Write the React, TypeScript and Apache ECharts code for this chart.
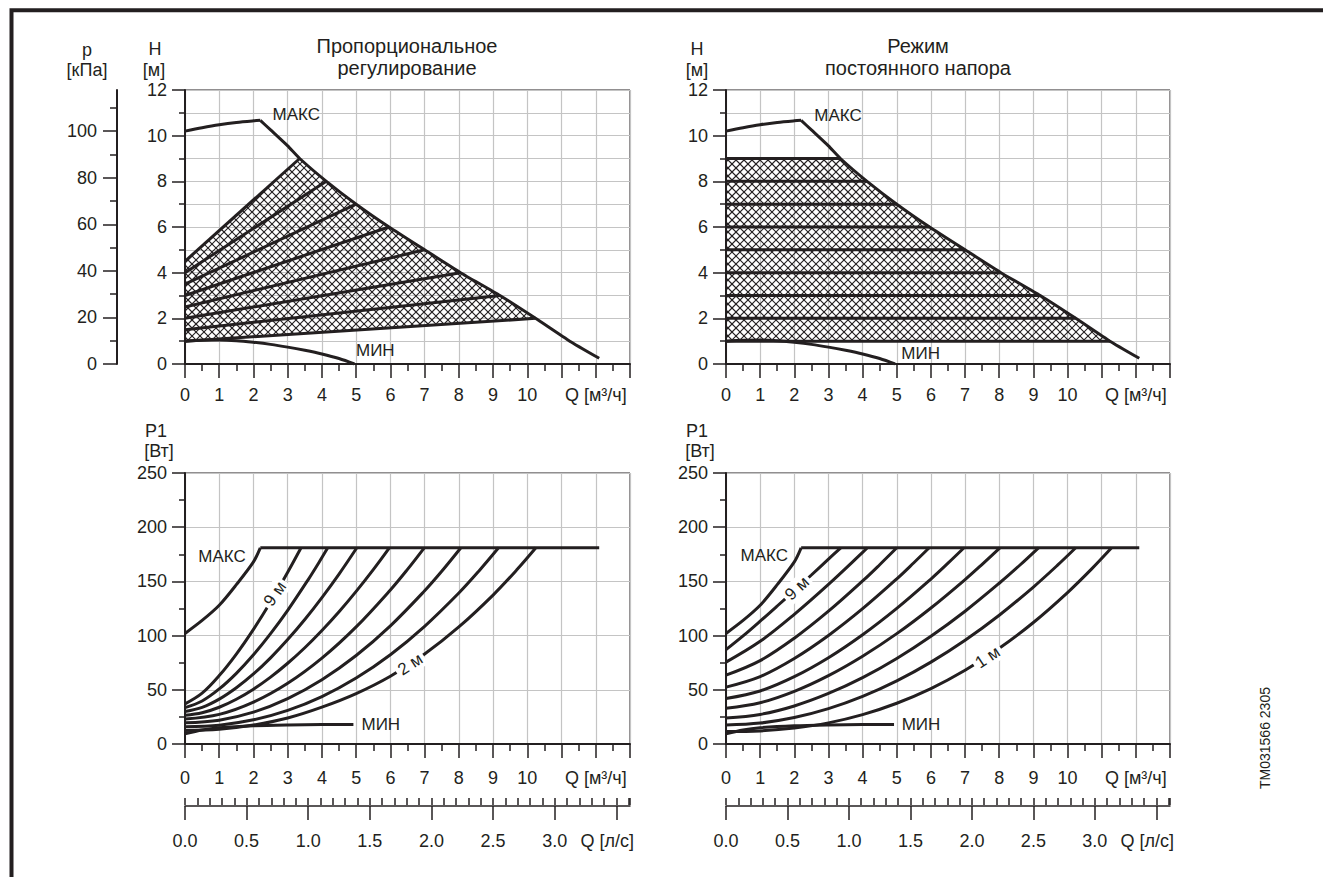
import React, { useEffect, useRef } from 'react';
import * as echarts from 'echarts';

type Pt = [number, number];

const FONT = '"Liberation Sans", Arial, Helvetica, sans-serif';
const INK = '#231f20';
const GRID_GRAY = '#c4c4c4';

// ---------- axis ranges & tick labels ----------
const Q_MAX = 13; // m³/h
const H_MAX = 12; // m
const P_MAX = 250; // W
const M3H_PER_LS = 3.6;
const KPA_PER_M = 9.81;
const qLabels = ['0', '1', '2', '3', '4', '5', '6', '7', '8', '9', '10', '', 'Q [м³/ч]', ''];
const lsTickValues = [0, 0.5, 1, 1.5, 2, 2.5, 3, 3.5];
const lsLabels = ['0.0', '0.5', '1.0', '1.5', '2.0', '2.5', '3.0', 'Q [л/с]'];
const kpaTickValues = [0, 20, 40, 60, 80, 100];
const kpaMinorValues = [10, 30, 50, 70, 90, 110];

// ---------- H-Q curves (Q m³/h, H m) ----------
const hqMaxRise: Pt[] = [[0, 10.2], [0.5, 10.35], [1, 10.48], [1.5, 10.58], [2, 10.65], [2.2, 10.67]];
const hqMaxFall: Pt[] = [
  [2.2, 10.67], [2.5, 10.25], [3, 9.55], [3.35, 9.0], [4.13, 8.0], [5, 7.0], [5.96, 6.0],
  [7, 5.0], [8.05, 4.0], [9.2, 3.0], [10.24, 2.0], [11.24, 1.0], [12.1, 0.25],
];
const hqMin: Pt[] = [
  [0, 1.0], [0.5, 1.04], [1, 1.05], [1.5, 1.02], [2, 0.95], [2.5, 0.86], [3, 0.74],
  [3.5, 0.6], [4, 0.44], [4.5, 0.24], [4.95, 0],
];
// proportional pressure lines: start head at Q=0, end on the max curve
const propStartH = [4.5, 4.0, 3.5, 3.0, 2.5, 2.0, 1.5, 1.0];
const propEnd: Pt[] = [[3.35, 9], [4.13, 8], [5, 7], [5.96, 6], [7, 5], [8.05, 4], [9.2, 3], [10.24, 2]];
// constant pressure lines
const constEnd: Pt[] = [[3.35, 9], [4.13, 8], [5, 7], [5.96, 6], [7, 5], [8.05, 4], [9.2, 3], [10.24, 2], [11.24, 1]];

// ---------- P1-Q curves (Q m³/h, P1 W) ----------
const pMaxRise: Pt[] = [[0, 102], [0.5, 114], [1, 128], [1.5, 147], [2, 168], [2.2, 181]];
const pMaxFlat: Pt[] = [[2.2, 181], [12.1, 181]];
const pMin: Pt[] = [[0, 9.5], [0.5, 13], [1, 15], [2, 16.8], [3, 17.6], [4, 18], [4.92, 18.1]];

const propP9: Pt[] = [[0, 37], [0.5, 46.9], [1, 63.1], [1.5, 83], [2, 105.8], [2.5, 131], [3, 158.4], [3.39, 181]];
const propP8: Pt[] = [[0, 33.5], [0.5, 39.7], [1, 50.8], [1.5, 65.2], [2, 82.3], [2.5, 101.8], [3, 123.3], [3.6, 151.7], [3.9, 166.8], [4.17, 181]];
const propP7: Pt[] = [[0, 30], [0.5, 33.8], [1, 41.4], [1.5, 51.9], [2, 64.6], [2.5, 79.5], [3, 96.3], [3.5, 114.8], [4, 135], [4.5, 156.7], [5.02, 181]];
const propP6: Pt[] = [[0, 26.5], [0.5, 28.8], [1, 33.9], [1.5, 41.3], [2, 50.6], [2.5, 61.7], [3, 74.5], [3.5, 88.8], [4, 104.7], [4.5, 122], [5, 140.8], [5.5, 160.9], [5.97, 181]];
const propP5: Pt[] = [[0, 23], [1, 27.3], [2, 38.6], [3, 56], [4, 79.2], [5, 108], [6, 142.1], [6.5, 161.1], [6.99, 181]];
const propP4: Pt[] = [[0, 19.5], [1, 22], [2, 29.4], [3, 41.9], [4, 59.3], [5, 81.6], [6, 109], [7, 141.3], [7.5, 159.3], [8.06, 181]];
const propP3: Pt[] = [[0, 16], [1, 17.4], [2, 22.3], [3, 31], [4, 43.8], [5, 60.9], [6, 82.4], [7, 108.6], [8, 139.3], [8.6, 160.1], [9.16, 181]];
const propP2: Pt[] = [[0, 12.5], [1, 13.6], [2, 17.5], [3, 24], [4, 34], [5, 46.5], [6, 62.5], [7, 83], [8, 108], [9, 137.4], [9.7, 160.9], [10.25, 181]];

const constP9: Pt[] = [[0, 87], [0.5, 99.7], [1, 113.3], [1.5, 127.3], [2, 141.5], [2.5, 155.9], [3, 170.5], [3.36, 181]];
const constP8: Pt[] = [[0, 75.5], [1, 94.7], [2, 119.6], [3, 147.2], [4, 176.7], [4.14, 181]];
const constP7: Pt[] = [[0, 63.5], [1, 76.9], [2, 97.6], [3, 122.5], [4, 150.4], [4.5, 165.4], [5, 181]];
const constP6: Pt[] = [[0, 52.5], [1, 62.2], [2, 78.9], [3, 100.1], [4, 124.8], [5, 152.3], [5.5, 167.2], [5.95, 181]];
const constP5: Pt[] = [[0, 42], [1, 48.9], [2, 62.1], [3, 79.6], [4, 100.8], [5, 125.1], [6, 152.2], [6.5, 166.8], [6.97, 181]];
const constP4: Pt[] = [[0, 33], [1, 38.1], [2, 48.6], [3, 63.1], [4, 81], [5, 101.8], [6, 125.5], [7, 151.7], [7.5, 165.8], [8.02, 181]];
const constP3: Pt[] = [[0, 24], [1, 27.3], [2, 35.1], [3, 46.6], [4, 61.2], [5, 78.9], [6, 99.4], [7, 122.5], [8, 148.3], [8.6, 164.9], [9.15, 181]];
const constP2: Pt[] = [[0, 17.5], [1, 19.3], [2, 24.4], [3, 32.6], [4, 43.9], [5, 58.2], [6, 75.5], [7, 95.7], [8, 118.8], [9, 144.8], [9.7, 164.7], [10.24, 181]];
const constP1: Pt[] = [[0, 11.5], [1, 12.1], [2, 14.7], [3, 19.5], [4, 27.1], [5, 37.6], [6, 51.1], [7, 68], [8, 88.3], [9, 112.1], [10, 139.7], [10.7, 161.3], [11.29, 181]];

const propPCurves = [propP9, propP8, propP7, propP6, propP5, propP4, propP3, propP2];
const constPCurves = [constP9, constP8, constP7, constP6, constP5, constP4, constP3, constP2, constP1];

// ---------- curve annotations (data coords; axis pair; rotation in degrees) ----------
const annTexts = ['МАКС', 'МИН', 'МАКС', 'МИН', 'МАКС', 'МИН', '9 м', '2 м', 'МАКС', 'МИН', '9 м', '1 м'];
const annPos: Pt[] = [
  [3.25, 10.92], [5.56, 0.6], [3.28, 10.9], [5.7, 0.45],
  [1.08, 172.6], [5.72, 18.4], [2.63, 138.5], [6.58, 73.5],
  [1.12, 174], [5.71, 18], [2.08, 143.5], [7.66, 80],
];
const annAxes: Pt[] = [[0, 0], [0, 0], [1, 3], [1, 3], [2, 4], [2, 4], [2, 4], [2, 4], [3, 5], [3, 5], [3, 5], [3, 5]];
const annRotate = [0, 0, 0, 0, 0, 0, 55, 33, 0, 0, 43, 34];

// hatch polygons built from curve data
const propHatch: Pt[] = [[0, propStartH[propStartH.length - 1]], ...hqMaxFall.slice(3, 11).reverse(), [0, propStartH[0]]];
const constHatch: Pt[] = [[0, constEnd[constEnd.length - 1][1]], ...hqMaxFall.slice(3, 12).reverse(), [0, constEnd[0][1]]];

const HATCH_STEP = 8;

function hatchSegments(poly: number[][], step: number): number[][] {
  const segs: number[][] = [];
  const n = poly.length;
  for (const dir of [1, -1]) {
    const cs = poly.map((p) => p[1] - dir * p[0]);
    const cmin = Math.min(...cs);
    const cmax = Math.max(...cs);
    for (let c = Math.ceil(cmin / step) * step; c <= cmax; c += step) {
      const xs: number[] = [];
      for (let i = 0; i < n; i++) {
        const a = poly[i];
        const b = poly[(i + 1) % n];
        const f1 = a[1] - dir * a[0] - c;
        const f2 = b[1] - dir * b[0] - c;
        if (f1 < 0 !== f2 < 0) {
          const t = f1 / (f1 - f2);
          xs.push(a[0] + t * (b[0] - a[0]));
        }
      }
      xs.sort((u, v) => u - v);
      for (let k = 0; k + 1 < xs.length; k += 2) {
        segs.push([xs[k], dir * xs[k] + c, xs[k + 1], dir * xs[k + 1] + c]);
      }
    }
  }
  return segs;
}

function line(data: Pt[], xi: number, yi: number, smooth: number | boolean = 0.3) {
  return {
    type: 'line', data, xAxisIndex: xi, yAxisIndex: yi, symbol: 'none', showSymbol: false, smooth,
    lineStyle: { color: INK, width: 3 }, silent: true, z: 3, emphasis: { disabled: true },
  };
}

function hatch(poly: Pt[], xi: number, yi: number) {
  return {
    type: 'custom', xAxisIndex: xi, yAxisIndex: yi, data: [[0, 0]], silent: true, z: 2,
    renderItem: (_p: any, api: any) => {
      const px = poly.map((p) => api.coord(p) as number[]);
      const segs = hatchSegments(px, HATCH_STEP);
      return {
        type: 'group',
        children: segs.map((s) => ({
          type: 'line', shape: { x1: s[0], y1: s[1], x2: s[2], y2: s[3] },
          style: { stroke: INK, lineWidth: 1.1 },
        })),
      };
    },
  };
}

const tickStyle = { color: INK, width: 1.5 };

function qAxis(gridIndex: number, margin: number) {
  return {
    type: 'value', gridIndex, min: 0, max: Q_MAX, interval: 1,
    axisLine: { show: true, onZero: false, lineStyle: { color: INK, width: 2 } },
    axisTick: { show: true, length: 14, lineStyle: tickStyle },
    minorTick: { show: true, splitNumber: 2, length: 7, lineStyle: tickStyle },
    splitLine: { show: true, lineStyle: { color: GRID_GRAY, width: 1.2 } },
    axisLabel: {
      margin, fontSize: 18, color: INK, fontFamily: FONT,
      formatter: (v: number) => qLabels[Math.round(v)] ?? '',
    },
  };
}

function lsAxes(gridIndex: number) {
  const max = Q_MAX / M3H_PER_LS;
  return [
    {
      type: 'value', gridIndex, min: 0, max, interval: 0.5,
      axisLine: { show: true, onZero: false, lineStyle: { color: INK, width: 1.5 } },
      axisTick: { show: true, length: 14, customValues: lsTickValues, lineStyle: tickStyle },
      splitLine: { show: false },
      axisLabel: {
        margin: 26, fontSize: 18, color: INK, fontFamily: FONT, customValues: lsTickValues,
        formatter: (v: number) => {
          const i = lsTickValues.findIndex((t) => Math.abs(t - v) < 1e-6);
          if (i < 0) return '';
          return i === lsTickValues.length - 1 ? '{q|' + lsLabels[i] + '}' : lsLabels[i];
        },
        rich: { q: { fontSize: 18, color: INK, fontFamily: FONT, padding: [0, 18, 0, 0] } },
      },
    },
    {
      type: 'value', gridIndex, min: 0, max, interval: 0.1,
      axisLine: { show: false, onZero: false },
      axisTick: { show: true, length: 7, lineStyle: tickStyle },
      axisLabel: { show: false },
      splitLine: { show: false },
    },
  ];
}

function hAxis(gridIndex: number) {
  return {
    type: 'value', gridIndex, min: 0, max: H_MAX, interval: 2,
    axisLine: { show: true, onZero: false, lineStyle: { color: INK, width: 2 } },
    axisTick: { show: true, length: 13, lineStyle: tickStyle },
    minorTick: { show: true, splitNumber: 2, length: 6, lineStyle: tickStyle },
    splitLine: { show: true, lineStyle: { color: GRID_GRAY, width: 1.2 } },
    minorSplitLine: { show: true, lineStyle: { color: GRID_GRAY, width: 1.2 } },
    axisLabel: { margin: 18, fontSize: 18, color: INK, fontFamily: FONT },
  };
}

function pAxis(gridIndex: number) {
  return {
    type: 'value', gridIndex, min: 0, max: P_MAX, interval: 50,
    axisLine: { show: true, onZero: false, lineStyle: { color: INK, width: 2 } },
    axisTick: { show: true, length: 13, lineStyle: tickStyle },
    minorTick: { show: true, splitNumber: 2, length: 6, lineStyle: tickStyle },
    splitLine: { show: true, lineStyle: { color: GRID_GRAY, width: 1.2 } },
    axisLabel: { margin: 18, fontSize: 18, color: INK, fontFamily: FONT },
  };
}

function txt(x: number, y: number, text: string, size = 18, rotation = 0, bg = false) {
  return {
    type: 'text', x, y, rotation, silent: true, z: 100,
    style: {
      text, font: `${size}px ${FONT}`, fill: INK,
      textAlign: 'center', textVerticalAlign: 'middle', align: 'center', verticalAlign: 'middle',
      backgroundColor: bg ? '#ffffff' : undefined, padding: bg ? [1, 3] : undefined,
    },
  };
}

const staticGraphics = () => [
  {
    type: 'polyline', silent: true,
    shape: { points: [[11.5, 877], [11.5, 10.3], [1323, 10.3]] },
    style: { stroke: INK, lineWidth: 4, fill: null },
  },
  txt(87, 50, 'p'),
  txt(87, 70, '[кПа]'),
  txt(155, 49, 'H'),
  txt(154, 70, '[м]'),
  txt(407, 46, 'Пропорциональное', 20),
  txt(407, 68, 'регулирование', 20),
  txt(697, 49, 'H'),
  txt(697, 70, '[м]'),
  txt(918, 46, 'Режим', 20),
  txt(918, 68, 'постоянного напора', 20),
  txt(156, 431, 'P1'),
  txt(159, 451, '[Вт]'),
  txt(697, 431, 'P1'),
  txt(700, 451, '[Вт]'),
  txt(1265, 738, 'TM031566 2305', 14, Math.PI / 2),
];

function buildOption() {
  const kpaMax = H_MAX * KPA_PER_M;
  const series: any[] = [];

  // top-left: proportional pressure H-Q
  series.push(hatch(propHatch, 0, 0));
  series.push(line(hqMaxRise, 0, 0), line(hqMaxFall, 0, 0, 0.15), line(hqMin, 0, 0));
  propStartH.forEach((h, i) => series.push(line([[0, h], propEnd[i]], 0, 0, false)));

  // top-right: constant pressure H-Q
  series.push(hatch(constHatch, 1, 3));
  series.push(line(hqMaxRise, 1, 3), line(hqMaxFall, 1, 3, 0.15), line(hqMin, 1, 3));
  constEnd.forEach((p) => series.push(line([[0, p[1]], p], 1, 3, false)));

  // bottom-left: P1 proportional
  series.push(line(pMaxRise, 2, 4), line(pMaxFlat, 2, 4, false), line(pMin, 2, 4));
  propPCurves.forEach((c) => series.push(line(c, 2, 4, 0.35)));

  // bottom-right: P1 constant
  series.push(line(pMaxRise, 3, 5), line(pMaxFlat, 3, 5, false), line(pMin, 3, 5));
  constPCurves.forEach((c) => series.push(line(c, 3, 5, 0.35)));

  const gridBox = { show: true, borderColor: INK, borderWidth: 1, backgroundColor: 'transparent' };

  return {
    animation: false,
    backgroundColor: '#ffffff',
    grid: [
      { left: 185, top: 90, width: 445, height: 274, ...gridBox },
      { left: 726, top: 90, width: 444, height: 274, ...gridBox },
      { left: 185, top: 473, width: 445, height: 271, ...gridBox },
      { left: 726, top: 473, width: 444, height: 271, ...gridBox },
      { left: 185, top: 805, width: 445, height: 1 },
      { left: 726, top: 805, width: 444, height: 1 },
    ],
    xAxis: [qAxis(0, 22), qAxis(1, 22), qAxis(2, 25), qAxis(3, 25), ...lsAxes(4), ...lsAxes(5)],
    yAxis: [
      hAxis(0),
      {
        type: 'value', gridIndex: 0, position: 'left', offset: 68, min: 0, max: kpaMax, interval: 20,
        axisLine: { show: true, onZero: false, lineStyle: { color: INK, width: 2 } },
        axisTick: { show: true, length: 14, customValues: kpaTickValues, lineStyle: tickStyle },
        axisLabel: { margin: 20, fontSize: 18, color: INK, fontFamily: FONT, customValues: kpaTickValues },
        splitLine: { show: false },
      },
      {
        type: 'value', gridIndex: 0, position: 'left', offset: 68, min: 0, max: kpaMax, interval: 10,
        axisLine: { show: false, onZero: false },
        axisTick: { show: true, length: 7, customValues: kpaMinorValues, lineStyle: tickStyle },
        axisLabel: { show: false },
        splitLine: { show: false },
      },
      hAxis(1),
      pAxis(2),
      pAxis(3),
      { type: 'value', gridIndex: 4, show: false },
      { type: 'value', gridIndex: 5, show: false },
    ],
    graphic: staticGraphics(),
    series,
  };
}

export default function App() {
  const ref = useRef<HTMLDivElement>(null);
  useEffect(() => {
    if (!ref.current) return;
    const chart = echarts.init(ref.current, undefined, { renderer: 'svg' });
    chart.setOption(buildOption() as any);
    // curve annotations placed through the chart's own axes
    const ann = annTexts.map((t, i) => {
      const [xi, yi] = annAxes[i];
      const p = chart.convertToPixel({ xAxisIndex: xi, yAxisIndex: yi } as any, annPos[i]) as number[];
      const rot = annRotate[i];
      return txt(p[0], p[1], t, 17, (rot * Math.PI) / 180, rot !== 0);
    });
    chart.setOption({ graphic: [...staticGraphics(), ...ann] } as any);
    return () => chart.dispose();
  }, []);
  return (
    <div
      ref={ref}
      style={{ position: 'absolute', left: 0, top: 0, width: 1323, height: 877, background: '#ffffff' }}
    />
  );
}
